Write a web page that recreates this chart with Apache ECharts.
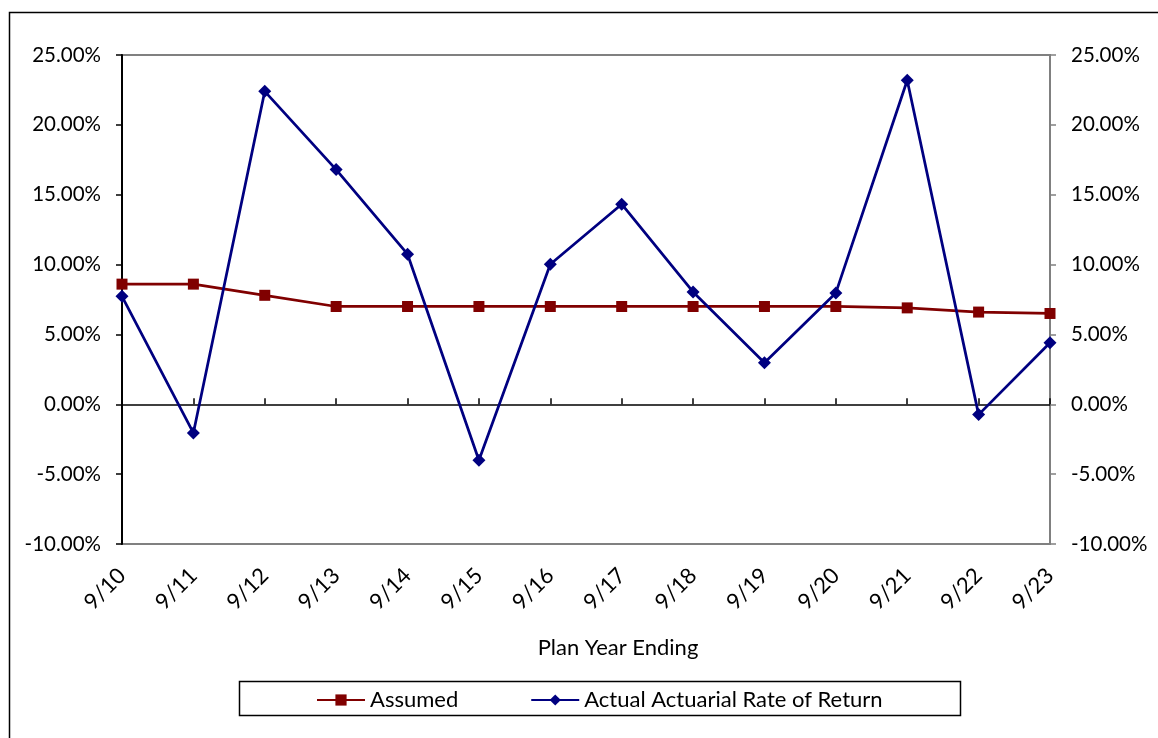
<!DOCTYPE html>
<html>
<head>
<meta charset="utf-8">
<script src="https://cdn.jsdelivr.net/npm/echarts@6/dist/echarts.min.js"></script>
<style>
  html, body { margin: 0; padding: 0; background: #fff; }
  #chart { width: 1158px; height: 738px; }
</style>
</head>
<body>
<div id="chart"></div>
<script>
// Plan year labels (fiscal years ending in September)
const categories = ['9/10', '9/11', '9/12', '9/13', '9/14', '9/15', '9/16', '9/17', '9/18', '9/19', '9/20', '9/21', '9/22', '9/23'];
// Assumed rate of return, percent
const assumed = [8.6, 8.6, 7.8, 7.0, 7.0, 7.0, 7.0, 7.0, 7.0, 7.0, 7.0, 6.9, 6.6, 6.5];
// Actual actuarial rate of return, percent
const actual = [7.73, -2.05, 22.4, 16.8, 10.74, -4.01, 10.02, 14.32, 8.04, 2.98, 7.97, 23.19, -0.74, 4.41];
// Value axis range and step, percent
const yMin = -10, yMax = 25, yStep = 5;

const FONT = 'Lato, "Open Sans", sans-serif';
const pct = v => v.toFixed(2) + '%';

const chart = echarts.init(document.getElementById('chart'), null, { renderer: 'canvas' });

chart.setOption({
  animation: false,
  backgroundColor: '#fff',
  textStyle: { fontFamily: FONT },
  grid: {
    left: 122, right: 108, top: 55, bottom: 194,
    show: true, borderColor: '#808080', borderWidth: 2, backgroundColor: 'transparent'
  },
  graphic: [
    // outer chart frame
    { type: 'rect', left: 7, top: 10, shape: { width: 1160, height: 740 },
      style: { fill: 'none', stroke: '#000', lineWidth: 1.5 }, z: -1 },
    // category axis title
    { type: 'text', x: 618, y: 648,
      style: { text: 'Plan Year Ending', fontFamily: FONT, fontSize: 22, fill: '#000',
               align: 'center', verticalAlign: 'middle' } },
    // legend frame
    { type: 'rect', left: 237, top: 679, shape: { width: 721, height: 34 },
      style: { fill: 'none', stroke: '#000', lineWidth: 1.5 }, z: -1 }
  ],
  legend: {
    left: 311, top: 684,
    itemWidth: 48, itemHeight: 14, itemGap: 72,
    textStyle: { fontFamily: FONT, fontSize: 22, color: '#000' },
    data: ['Assumed', 'Actual Actuarial Rate of Return']
  },
  xAxis: [
    {
      type: 'category', data: categories, boundaryGap: false,
      position: 'bottom',
      axisLine: { show: false, onZero: false },
      axisTick: { show: false },
      axisLabel: { rotate: 45, margin: 28, fontSize: 22, color: '#000', fontFamily: FONT }
    },
    {
      type: 'category', data: categories, boundaryGap: false,
      position: 'bottom',
      axisLine: { show: true, onZero: true, lineStyle: { color: '#000', width: 1.5 } },
      axisTick: { show: true, inside: true, length: 6, alignWithLabel: true, lineStyle: { color: '#000', width: 1.5 } },
      axisLabel: { show: false }
    }
  ],
  yAxis: [
    {
      type: 'value', min: yMin, max: yMax, interval: yStep, position: 'left',
      splitLine: { show: false },
      axisLine: { show: true, lineStyle: { color: '#000', width: 2 } },
      axisTick: { show: true, length: 6, lineStyle: { color: '#000', width: 1.5 } },
      axisLabel: { formatter: pct, fontSize: 20.5, color: '#000', margin: 21, fontFamily: FONT }
    },
    {
      type: 'value', min: yMin, max: yMax, interval: yStep, position: 'right',
      splitLine: { show: false },
      axisLine: { show: true, lineStyle: { color: '#808080', width: 2 } },
      axisTick: { show: true, length: 6, lineStyle: { color: '#808080', width: 1.5 } },
      axisLabel: { formatter: pct, fontSize: 20.5, color: '#000', margin: 21, fontFamily: FONT }
    }
  ],
  series: [
    {
      name: 'Assumed', type: 'line', data: assumed, xAxisIndex: 0, yAxisIndex: 0,
      symbol: 'rect', symbolSize: 11, showAllSymbol: true,
      itemStyle: { color: '#800000' },
      lineStyle: { color: '#800000', width: 2.75 },
      z: 3
    },
    {
      name: 'Actual Actuarial Rate of Return', type: 'line', data: actual, xAxisIndex: 0, yAxisIndex: 0,
      symbol: 'diamond', symbolSize: 13, showAllSymbol: true,
      itemStyle: { color: '#000080' },
      lineStyle: { color: '#000080', width: 2.75 },
      z: 4
    }
  ]
});
</script>
</body>
</html>
